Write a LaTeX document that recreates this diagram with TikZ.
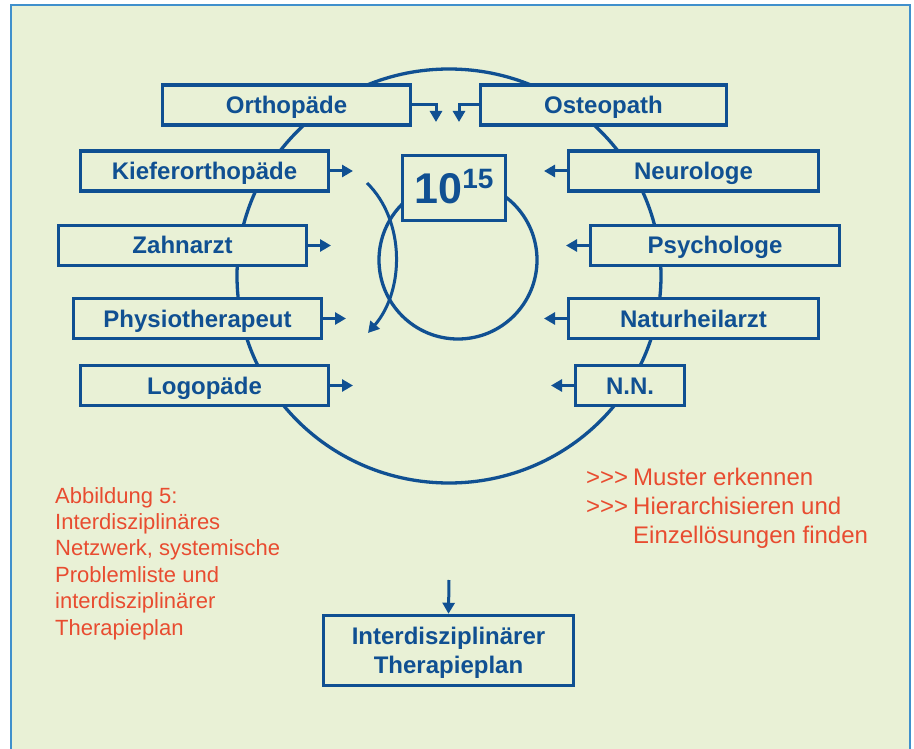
\documentclass[tikz,border=0pt]{standalone}
\usepackage{fontspec}
\setmainfont{Liberation Sans}
\usetikzlibrary{arrows.meta}
\definecolor{netzblau}{RGB}{16,80,146}
\definecolor{netzrot}{RGB}{232,76,48}
\definecolor{netzgruen}{RGB}{233,241,214}
\definecolor{rahmenblau}{RGB}{64,144,204}
\newcommand{\bw}{248pt}

\begin{document}
\begin{tikzpicture}[x=1pt,y=-1pt,
    rect/.style={draw=netzblau, fill=netzgruen, rectangle, line width=3.5pt, minimum width=\bw, minimum height=40pt, inner sep=0pt, text=netzblau, font=\fontsize{24}{28}\selectfont\bfseries, text height=17pt, text depth=0pt},
    arr/.style={draw=netzblau, line width=3pt, -{Triangle[length=11pt,width=12pt]}},
    ring/.style={draw=netzblau, line width=3.3pt},
    note/.style={text=netzrot, inner sep=0pt, align=left, anchor=north west}]
    \useasboundingbox (0,0) rectangle (914,749);
    % Background
    \fill[netzgruen] (11,5) rectangle (910,760);
    \draw[rahmenblau, line width=1.6pt] (11,760) -- (11,5) -- (910,5) -- (910,760);

    % Circles
    \draw[ring] (449,276) ellipse [x radius=212, y radius=207];
    \draw[ring] (458,260) circle [radius=79];

    % Left column
    \node[rect] (ortho) at (286.5,105) {Orthopäde};
    \node[rect] (kiefer) at (204.5,171) {Kieferorthopäde};
    \node[rect] (zahn) at (182.5,245.5) {Zahnarzt};
    \node[rect] (physio) at (197.5,318.5) {Physiotherapeut};
    \node[rect] (logo) at (204.5,385.5) {Logopäde};

    % Right column
    \node[rect, minimum width=246pt] (osteo) at (603.5,105) {Osteopath};
    \node[rect, minimum width=250pt] (neuro) at (693.5,171) {Neurologe};
    \node[rect, minimum width=249pt] (psycho) at (715,245.5) {Psychologe};
    \node[rect, minimum width=250pt] (natur) at (693.5,318.5) {Naturheilarzt};
    \node[rect, minimum width=109pt] (nn) at (630,385.5) {N.N.};

    % Centre
    \node[rect, minimum width=103pt, minimum height=65pt, text height=32pt, font=\fontsize{43}{43}\selectfont\bfseries] (zehn) at (454,188) {10\raisebox{15pt}{\fontsize{28}{28}\selectfont 15}};

    % Arrows
    \coordinate (ortho-end) at (436,122);
    \coordinate (osteo-end) at (459,122);
    \coordinate (kiefer-end) at (353,171);
    \coordinate (zahn-end) at (331,245.5);
    \coordinate (physio-end) at (346,318.5);
    \coordinate (logo-end) at (353,385.5);
    \coordinate (neuro-end) at (544,171);
    \coordinate (psycho-end) at (566,245.5);
    \coordinate (natur-end) at (544,318.5);
    \coordinate (nn-end) at (551,385.5);
    \draw[arr] (ortho.east) -| (ortho-end);
    \draw[arr] (osteo.west) -| (osteo-end);
    \draw[arr] (kiefer.east) -- (kiefer-end);
    \draw[arr] (zahn.east) -- (zahn-end);
    \draw[arr] (physio.east) -- (physio-end);
    \draw[arr] (logo.east) -- (logo-end);
    \draw[arr] (neuro.west) -- (neuro-end);
    \draw[arr] (psycho.west) -- (psycho-end);
    \draw[arr] (natur.west) -- (natur-end);
    \draw[arr] (nn.west) -- (nn-end);

    % Curved arrow
    \coordinate (bogen-start) at (367,183);
    \coordinate (bogen-end) at (368,333);
    \draw[arr] (bogen-start) .. controls (405,220) and (405,290) .. (bogen-end);

    % Result
    \node[rect, minimum width=250pt, minimum height=70pt, align=center, text height=, text depth=0pt, font=\fontsize{24}{29}\selectfont\bfseries] (plan) at (448.5,650.5) {Interdisziplinärer\\Therapieplan};
    \coordinate (plan-start) at (449,580);
    \draw[arr] (plan-start) -- (plan.north);

    % Notes
    \node[note, font=\fontsize{22}{26.4}\selectfont] (caption) at (55,487) {Abbildung 5:\\Interdisziplinäres\\Netzwerk, systemische\\Problemliste und\\interdisziplinärer\\Therapieplan};
    \node[note, font=\fontsize{24}{29}\selectfont] (muster) at (586,467.5) {\makebox[47pt][l]{>{}>{}>}Muster erkennen\\\makebox[47pt][l]{>{}>{}>}Hierarchisieren und\\\hspace*{47pt}Einzellösungen finden};
\end{tikzpicture}
\end{document}
